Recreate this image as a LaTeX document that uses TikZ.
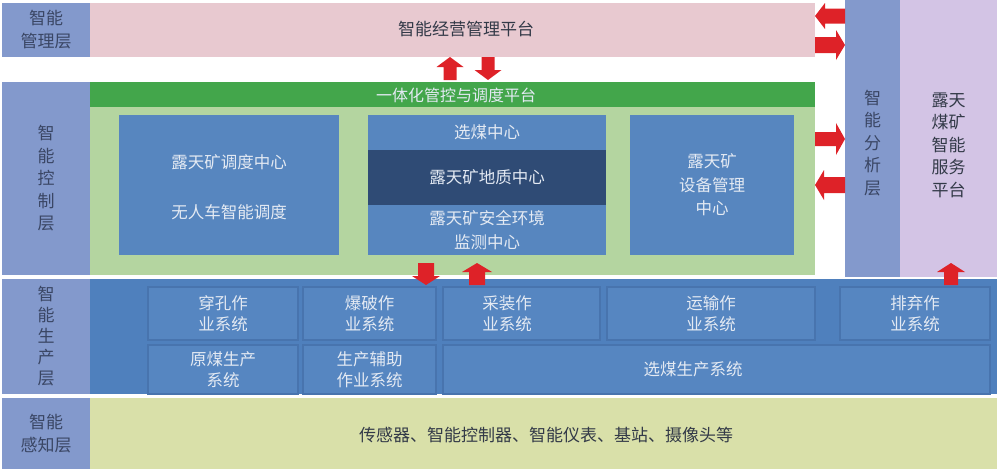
\documentclass[tikz,border=0pt]{standalone}
\usepackage{fontspec}
\setmainfont{Noto Sans CJK SC}
\definecolor{labc}{HTML}{8399CC}
\definecolor{labtxt}{HTML}{3A4664}
\definecolor{pinkc}{HTML}{E8C9D0}
\definecolor{greenbar}{HTML}{43A64B}
\definecolor{lgreen}{HTML}{B4D5A0}
\definecolor{bbox}{HTML}{5786BF}
\definecolor{dbox}{HTML}{2F4B75}
\definecolor{prodbg}{HTML}{4F80BD}
\definecolor{prodbox}{HTML}{5686C1}
\definecolor{prodedge}{HTML}{4874AE}
\definecolor{yel}{HTML}{D9E0A9}
\definecolor{lav}{HTML}{D3C4E5}
\definecolor{redc}{HTML}{DE2228}
\definecolor{lighttxt}{HTML}{E4EAF3}
\definecolor{darktxt}{HTML}{333A48}
\newcommand\VArr[6]{%
  \pgfmathsetmacro\arrHB{#3+(#2>#3?1:-1)*#6}%
  \fill[redc] (#1-#5,#2) -- (#1-#5,\arrHB) -- (#1-#4,\arrHB) -- (#1,#3) -- (#1+#4,\arrHB) -- (#1+#5,\arrHB) -- (#1+#5,#2) -- cycle;}
\newcommand\HArr[6]{%
  \pgfmathsetmacro\arrHB{#3+(#2>#3?1:-1)*#6}%
  \fill[redc] (#2,#1-#5) -- (\arrHB,#1-#5) -- (\arrHB,#1-#4) -- (#3,#1) -- (\arrHB,#1+#4) -- (\arrHB,#1+#5) -- (#2,#1+#5) -- cycle;}
\begin{document}
\begin{tikzpicture}[x=1pt,y=-1pt,
  base/.style={inner sep=0pt, outer sep=0pt, align=center},
  lab/.style={base, fill=labc, text=labtxt, font=\fontsize{17}{22.5}\selectfont},
  boxt/.style={base, fill=bbox, text=lighttxt, font=\fontsize{16.5}{23.5}\selectfont},
  prod/.style={base, fill=prodbox, draw=prodedge, line width=1.3pt, text=lighttxt, font=\fontsize{16.5}{20.5}\selectfont},
  txt/.style={base, font=\fontsize{17}{22}\selectfont}]
\useasboundingbox (0,0) rectangle (1000,471);
\fill[white] (0,0) rectangle (1000,471);
% management layer
\node[lab, minimum width=88, minimum height=54] (mgl) at (46,29.5) {智能\\管理层};
\node[base, fill=pinkc, minimum width=725, minimum height=54] (pink) at (452.5,29.5) {};
\node[txt, text=darktxt] (pinkt) at (466,29.5) {智能经营管理平台};
% analysis + service columns
\node[lab, minimum width=55, minimum height=277] (ana) at (872.5,138.5) {};
\node[txt, text=labtxt, font=\fontsize{17}{22.5}\selectfont] (anat) at (872.5,143) {智\\能\\分\\析\\层};
\node[base, fill=lav, minimum width=97, minimum height=277] (srv) at (948.5,138.5) {};
\node[txt, text=darktxt, font=\fontsize{17}{22.5}\selectfont] (srvt) at (948.5,145) {露天\\煤矿\\智能\\服务\\平台};
% control layer
\node[lab, minimum width=88, minimum height=193] (ctl) at (46,178.5) {智\\能\\控\\制\\层};
\node[base, fill=greenbar, minimum width=725, minimum height=25] (gbar) at (452.5,94.5) {};
\node[txt, text=lighttxt, font=\fontsize{16}{20}\selectfont] (gbart) at (456,95) {一体化管控与调度平台};
\node[base, fill=lgreen, minimum width=725, minimum height=168] (lg) at (452.5,191) {};
\node[boxt, minimum width=220, minimum height=140] (disp) at (229,185) {};
\node[txt, text=lighttxt, font=\fontsize{16.5}{20}\selectfont] (dispa) at (229,162) {露天矿调度中心};
\node[txt, text=lighttxt, font=\fontsize{16.5}{20}\selectfont] (dispb) at (229,212) {无人车智能调度};
\node[boxt, minimum width=238, minimum height=35] (xm) at (487,132.5) {选煤中心};
\node[boxt, fill=dbox, minimum width=238, minimum height=55] (geo) at (487,177.5) {露天矿地质中心};
\node[boxt, minimum width=238, minimum height=50] (safe) at (487,230) {露天矿安全环境\\监测中心};
\node[boxt, minimum width=164, minimum height=140] (equ) at (712,185) {露天矿\\设备管理\\中心};
% production layer
\node[lab, minimum width=88, minimum height=115, font=\fontsize{17}{21}\selectfont] (pdl) at (46,336.5) {智\\能\\生\\产\\层};
\node[base, fill=prodbg, minimum width=907, minimum height=115] (pbg) at (543.5,336.5) {};
\node[prod, minimum width=150, minimum height=53] (p1) at (223,313.5) {穿孔作\\业系统};
\node[prod, minimum width=133, minimum height=53] (p2) at (369.5,313.5) {爆破作\\业系统};
\node[prod, minimum width=157, minimum height=53] (p3) at (521.5,313.5) {};
\node[txt, text=lighttxt, font=\fontsize{16.5}{20.5}\selectfont] (p3t) at (507,313.5) {采装作\\业系统};
\node[prod, minimum width=208, minimum height=53] (p4) at (711,313.5) {运输作\\业系统};
\node[prod, minimum width=150, minimum height=53] (p5) at (915,313.5) {排弃作\\业系统};
\node[prod, minimum width=150, minimum height=49] (p6) at (223,369.5) {原煤生产\\系统};
\node[prod, minimum width=133, minimum height=49] (p7) at (369.5,369.5) {生产辅助\\作业系统};
\node[prod, minimum width=547, minimum height=49] (p8) at (716.5,369.5) {};
\node[txt, text=lighttxt, font=\fontsize{16.5}{20.5}\selectfont] (p8t) at (693,369.5) {选煤生产系统};
% perception layer
\node[lab, minimum width=88, minimum height=71] (pcl) at (46,433.5) {智能\\感知层};
\node[base, fill=yel, minimum width=907, minimum height=71] (pyl) at (543.5,433.5) {};
\node[txt, text=darktxt] (pylt) at (546,435) {传感器、智能控制器、智能仪表、基站、摄像头等};
% block arrows
\VArr{450}{80}{57}{13.5}{6.5}{10}
\VArr{488}{57}{80}{13.5}{6.5}{10}
\HArr{16}{845}{815}{13}{7.5}{10}
\HArr{45}{815}{845}{15}{8}{9}
\HArr{139}{815}{845}{16}{7}{9}
\HArr{185}{845}{815}{15}{8}{9}
\VArr{426}{263}{285}{14}{8}{9}
\VArr{477}{285}{263}{15}{8}{9}
\VArr{951}{285}{263}{14}{7}{9}
\end{tikzpicture}
\end{document}
